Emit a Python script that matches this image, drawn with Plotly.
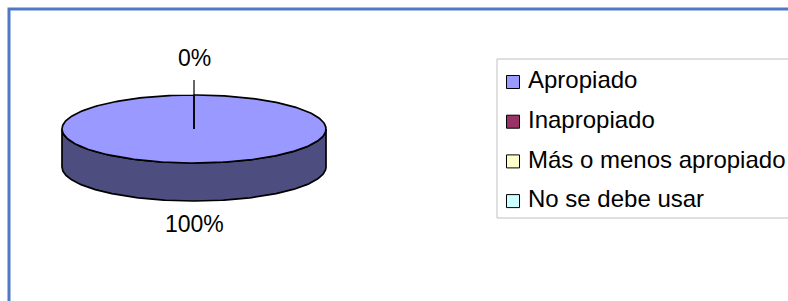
import numpy as np
import plotly.graph_objects as go

# ---- data ----
categories = ["Apropiado", "Inapropiado", "Más o menos apropiado", "No se debe usar"]
values = [100, 0, 0, 0]
top_colors = ["#9999ff", "#993366", "#ffffcc", "#ccffff"]
side_colors = ["#4d4d80", "#4d1a33", "#808066", "#668080"]

FONT = "Liberation Sans, Arial, sans-serif"
W, H = 788, 301

# ---- pie geometry (pixel space) ----
cx, cy, rx, ry, depth = 194, 129, 132, 34, 38
total = float(sum(values))
fracs = [v / total for v in values]
pcts = [f"{round(f * 100)}%" for f in fracs]

fig = go.Figure()

def ell(th, dy=0.0):
    return cx + rx * np.sin(th), cy - ry * np.cos(th) + dy

starts = np.concatenate([[0.0], np.cumsum(fracs)[:-1]]) * 2 * np.pi
ends = np.cumsum(fracs) * 2 * np.pi

# side faces (front half only)
for i in range(len(values)):
    a0, a1 = starts[i], ends[i]
    s, e = max(a0, np.pi / 2), min(a1, 3 * np.pi / 2)
    if e <= s:
        continue
    th = np.linspace(s, e, 200)
    xt, yt = ell(th)
    xb, yb = ell(th[::-1], depth)
    fig.add_trace(go.Scatter(
        x=np.concatenate([xt, xb, xt[:1]]), y=np.concatenate([yt, yb, yt[:1]]),
        mode="lines", fill="toself", fillcolor=side_colors[i],
        line=dict(color="black", width=1.7), hoverinfo="skip", showlegend=False))

# top faces
for i in range(len(values)):
    a0, a1 = starts[i], ends[i]
    if a1 - a0 <= 0:
        continue
    th = np.linspace(a0, a1, 300)
    xa, ya = ell(th)
    fig.add_trace(go.Scatter(
        x=np.concatenate([[cx], xa, [cx]]), y=np.concatenate([[cy], ya, [cy]]),
        mode="lines", fill="toself", fillcolor=top_colors[i],
        line=dict(color="black", width=1.7), hoverinfo="skip", showlegend=False))

# data labels
label_gap = 23
leader_extra = 14
seen = set()
for i in range(len(values)):
    mid = (starts[i] + ends[i]) / 2
    front = np.cos(mid) < 0
    px, py = ell(mid, depth if front else 0)
    zero = values[i] == 0
    gap = label_gap + (leader_extra if zero else 0)
    lx = px + gap * np.sin(mid)
    ly = py - gap * np.cos(mid)
    key = (round(lx), round(ly), pcts[i])
    if key in seen:
        continue
    seen.add(key)
    if zero:
        fig.add_trace(go.Scatter(x=[lx, cx], y=[ly + 22, cy], mode="lines",
                                 line=dict(color="black", width=1.2),
                                 hoverinfo="skip", showlegend=False))
    fig.add_annotation(x=lx, y=ly, text=pcts[i], showarrow=False,
                       xanchor="center", yanchor="middle",
                       font=dict(family=FONT, size=23, color="black"))

# ---- legend (drawn manually) ----
leg_x0, leg_y0, leg_y1 = 497, 59, 218
mark_x = 513
base0, step = 88, 39.7
baselines = [base0 + k * step for k in range(len(categories))]
fig.add_shape(type="rect", x0=leg_x0, x1=W + 5, y0=leg_y0, y1=leg_y1,
              line=dict(color="#c0c0c0", width=1), fillcolor="white", layer="below")
fig.add_trace(go.Scatter(
    x=[mark_x] * len(categories), y=[b - 6 for b in baselines], mode="markers",
    marker=dict(symbol="square", size=13, color=top_colors,
                line=dict(color="black", width=1)),
    hoverinfo="skip", showlegend=False))
for cat, b in zip(categories, baselines):
    fig.add_annotation(x=526, y=b - 8.4, text=cat, showarrow=False,
                       xanchor="left", yanchor="middle",
                       font=dict(family=FONT, size=24, color="black"))

# ---- frame ----
fig.add_shape(type="path", path=f"M 9,{H + 5} L 9,9 L {W + 5},9",
              line=dict(color="#4f79c4", width=3))

fig.update_layout(
    width=W, height=H, margin=dict(l=0, r=0, t=0, b=0),
    paper_bgcolor="white", plot_bgcolor="white",
    xaxis=dict(range=[0, W], visible=False, fixedrange=True),
    yaxis=dict(range=[H, 0], visible=False, fixedrange=True),
    showlegend=False,
)
fig.write_html(
    "out.html",
    config={"displayModeBar": False, "staticPlot": True},
    post_script="document.body.style.margin='0'; document.body.style.overflow='hidden';",
)
